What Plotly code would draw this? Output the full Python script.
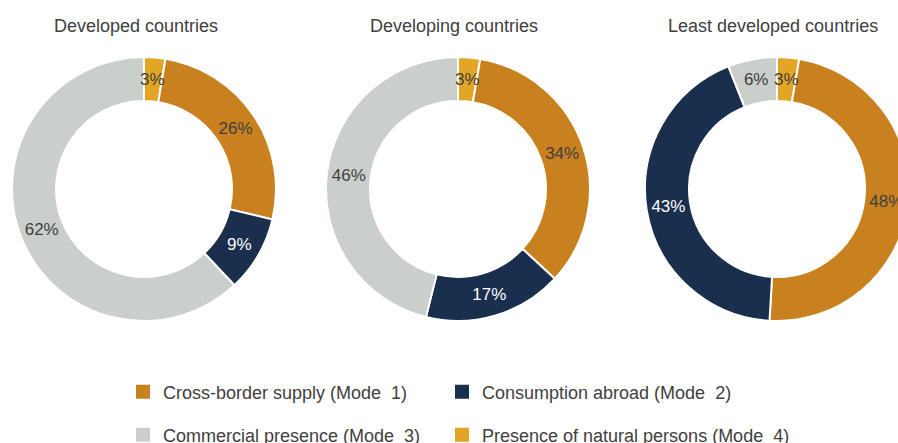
import math
import plotly.graph_objects as go

# ---------------- data ----------------
groups = ["Developed countries", "Developing countries", "Least developed countries"]
modes = [
    "Cross-border supply (Mode  1)",
    "Consumption abroad (Mode  2)",
    "Commercial presence (Mode  3)",
    "Presence of natural persons (Mode  4)",
]
# shares (%) in order Mode 1, Mode 2, Mode 3, Mode 4
developed = [26.1, 9.3, 62.0, 2.6]
developing = [34.2, 17.0, 46.1, 2.7]
least_developed = [48.2, 43.1, 6.0, 2.7]
series = [developed, developing, least_developed]

# ---------------- style ----------------
colors = ["#C8811E", "#1A2E4D", "#CBCFCB", "#E2A526"]
text_colors = ["#404040", "#FFFFFF", "#404040", "#404040"]
FONT = "Liberation Sans, Arial, Helvetica, sans-serif"
W, H = 911, 443
centers_x = [144, 458, 777]
center_y = 189
R = 132
R_IN = 88
title_x = [135.5, 453.5, 772.5]
order = [3, 0, 1, 2]  # clockwise from 12 o'clock: Mode 4, 1, 2, 3
SMALL = 5  # slices below this share get their label drawn on top (not shrunk)

fig = go.Figure()

for g, vals, cx, tx in zip(groups, series, centers_x, title_x):
    v = [vals[i] for i in order]
    total = sum(v)
    templates = ["" if x < SMALL else "%{percent:.0%}" for x in v]
    fig.add_trace(go.Pie(
        labels=[modes[i] for i in order],
        values=v,
        marker=dict(colors=[colors[i] for i in order], line=dict(color="white", width=2)),
        hole=R_IN / R,
        sort=False,
        direction="clockwise",
        rotation=0,
        texttemplate=templates,
        textposition="inside",
        insidetextorientation="horizontal",
        insidetextfont=dict(family=FONT, size=17, color=[text_colors[i] for i in order]),
        showlegend=False,
        hoverinfo="label+percent",
        domain=dict(
            x=[(cx - R) / W, (cx + R) / W],
            y=[(H - center_y - R) / H, (H - center_y + R) / H],
        ),
        name=g,
    ))
    # labels for thin slices, placed at the slice's mid-angle on the ring middle
    cum = 0.0
    rm = (R + R_IN) / 2
    for k, x in enumerate(v):
        if x < SMALL:
            ang = 2 * math.pi * (cum + x / 2) / total
            px = cx + rm * math.sin(ang)
            py = center_y - rm * math.cos(ang)
            fig.add_annotation(
                text="%d%%" % round(100 * x / total), x=px / W, y=1 - py / H,
                xref="paper", yref="paper", xanchor="center", yanchor="middle",
                showarrow=False,
                font=dict(family=FONT, size=17, color=text_colors[order[k]]),
            )
        cum += x
    fig.add_annotation(
        text=g, x=tx / W, y=1 - 26 / H, xref="paper", yref="paper",
        xanchor="center", yanchor="middle", showarrow=False,
        font=dict(family=FONT, size=18, color="#404040"),
    )

# legend entries (two rows, two columns)
leg_widths = [274, 340, 274, 340]
for i, (m, c) in enumerate(zip(modes, colors)):
    fig.add_trace(go.Scatter(
        x=[None], y=[None], mode="markers",
        marker=dict(symbol="square", size=14, color=c),
        name=m, legend="legend" if i < 2 else "legend2",
        legendwidth=leg_widths[i],
        hoverinfo="skip",
    ))

leg_common = dict(
    orientation="h", xanchor="left", yanchor="middle",
    font=dict(family=FONT, size=18, color="#404040"),
    bgcolor="rgba(0,0,0,0)", borderwidth=0,
)
fig.update_layout(
    width=W, height=H,
    margin=dict(l=0, r=0, t=0, b=0, autoexpand=False),
    paper_bgcolor="white", plot_bgcolor="white",
    font=dict(family=FONT, color="#404040"),
    xaxis=dict(visible=False), yaxis=dict(visible=False),
    legend=dict(x=123 / W, y=1 - 392 / H, **leg_common),
    legend2=dict(x=123 / W, y=1 - 435 / H, **leg_common),
)

fig.write_html(
    "out.html",
    config={"displayModeBar": False},
    post_script="document.body.style.margin='0';document.body.style.overflow='hidden';document.documentElement.style.overflow='hidden';",
)
